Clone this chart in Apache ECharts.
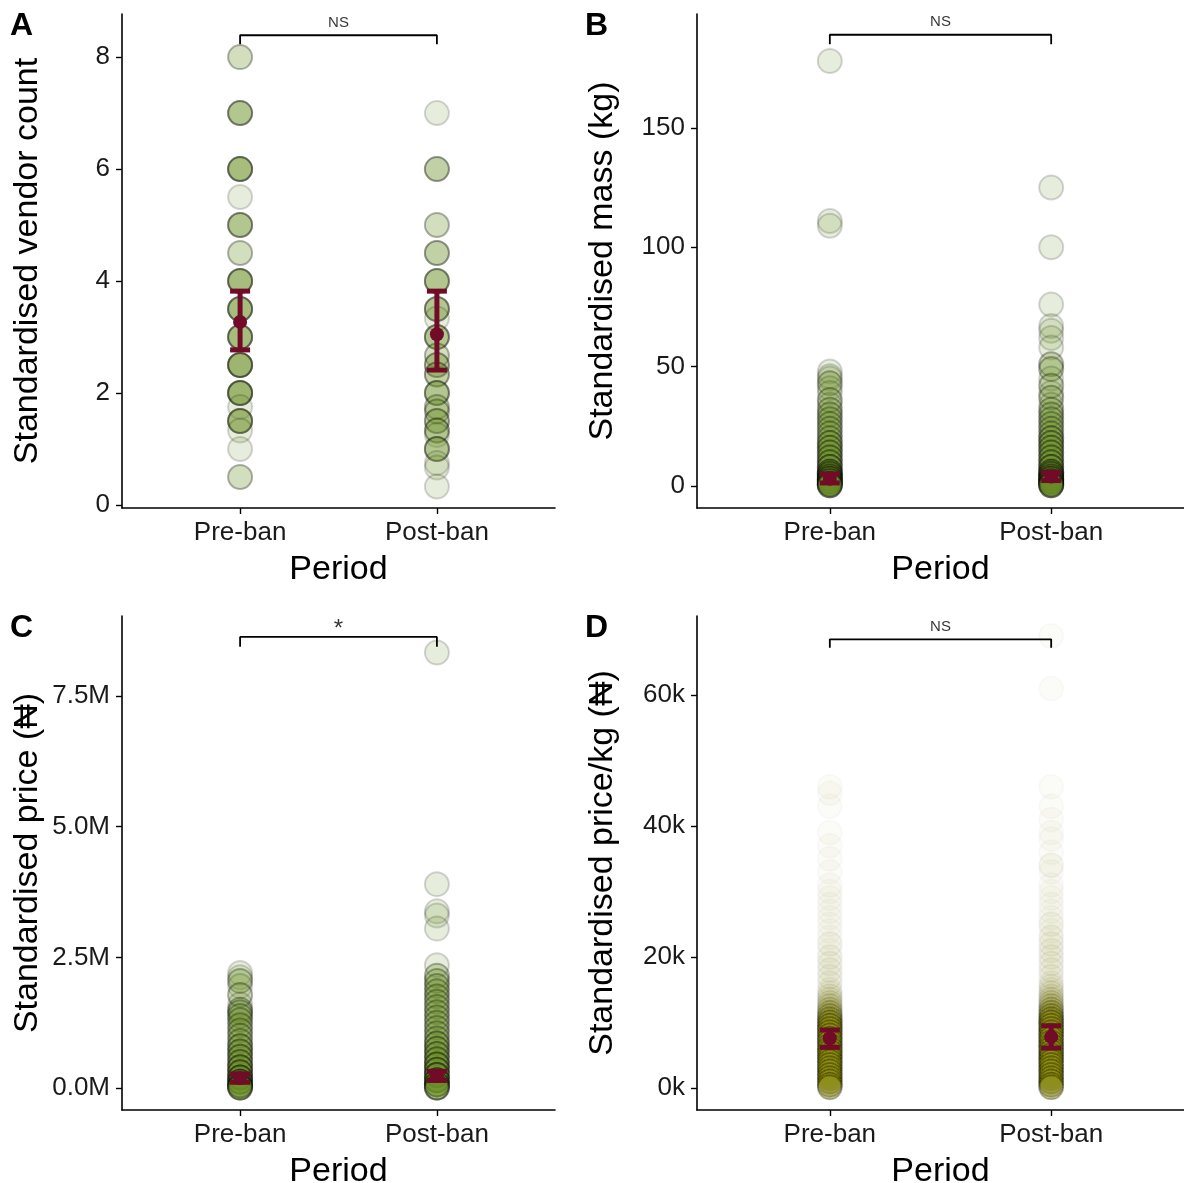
<!DOCTYPE html>
<html>
<head>
<meta charset="utf-8">
<title>Pre-ban vs post-ban</title>
<script src="https://cdn.jsdelivr.net/npm/echarts@6/dist/echarts.min.js"></script>
<style>
  html, body { margin: 0; padding: 0; background: #fff; }
  #chart { width: 1184px; height: 1183px; }
</style>
</head>
<body>
<div id="chart"></div>
<script>
const periods = ['Pre-ban', 'Post-ban'];

// A: standardised vendor count (value, number of records at that value)
const countPreVals = [8, 7, 6, 5.5, 5, 4.5, 4, 3.5, 3, 2.5, 2, 1.75, 1.5, 1.33, 1, 0.5];
const countPreN = [2, 4, 5, 1, 4, 2, 5, 5, 5, 6, 6, 1, 5, 1, 1, 2];
const countPostVals = [7, 6, 5, 4.5, 4, 3.5, 3.33, 3, 2.67, 2.5, 2.33, 2, 1.75, 1.67, 1.5, 1.33, 1.25, 1, 0.75, 0.67, 0.33];
const countPostN = [1, 3, 2, 3, 4, 4, 1, 4, 2, 3, 3, 4, 2, 2, 3, 3, 1, 4, 1, 1, 1];

// B: standardised mass (kg)
const massPreVals = [178, 111, 109, 48, 46, 45, 43, 41, 39, 36, 34, 32, 30, 28, 26, 24, 22, 20, 18, 16, 14, 12, 10, 8, 6, 5, 4, 3, 2, 1, 0.3];
const massPreN = [1, 1, 1, 1, 1, 1, 2, 1, 1, 2, 1, 2, 2, 2, 2, 2, 2, 2, 3, 3, 3, 3, 3, 4, 4, 4, 4, 5, 5, 5, 5];
const massPostVals = [125, 100, 76, 67, 65, 62, 58, 51, 49, 45, 42, 39, 37, 34, 32, 30, 28, 26, 24, 22, 20, 18, 16, 14, 12, 10, 8, 6, 5, 4, 3, 2, 1, 0.3];
const massPostN = [1, 1, 1, 1, 1, 1, 1, 2, 2, 1, 2, 1, 2, 1, 2, 2, 2, 2, 2, 2, 3, 3, 3, 3, 3, 3, 4, 4, 4, 4, 5, 5, 5, 5];

// C: standardised price (million naira)
const pricePreVals = [2.2, 2.12, 2.05, 1.95, 1.78, 1.6, 1.5, 1.45, 1.38, 1.3, 1.2, 1.1, 1.0, 0.9, 0.8, 0.7, 0.6, 0.5, 0.4, 0.3, 0.2, 0.12, 0.05, 0.01];
const pricePreN = [1, 1, 2, 1, 2, 1, 2, 2, 2, 2, 2, 2, 2, 2, 3, 3, 3, 3, 4, 4, 5, 5, 5, 5];
const pricePostVals = [8.33, 3.9, 3.38, 3.3, 3.05, 2.35, 2.15, 2.05, 1.95, 1.85, 1.75, 1.65, 1.55, 1.45, 1.35, 1.25, 1.15, 1.05, 0.95, 0.85, 0.75, 0.65, 0.55, 0.45, 0.35, 0.25, 0.15, 0.07, 0.01];
const pricePostN = [1, 1, 1, 1, 1, 1, 2, 2, 2, 2, 2, 2, 2, 2, 2, 2, 2, 2, 2, 3, 3, 3, 3, 4, 4, 5, 5, 5, 5];

// D: standardised price per kg (thousand naira)
const perKgPreVals = [46, 45, 43, 39, 37, 35, 33, 31, 30, 29, 28, 27, 26, 25, 24, 23, 22, 21, 20, 19, 18, 17, 16, 15, 14.5, 14, 13.5, 13, 12.5, 12, 11.5, 11, 10.5, 10, 9.5, 9, 8.5, 8, 7.5, 7, 6.5, 6, 5.5, 5, 4.5, 4, 3.5, 3, 2.5, 2, 1.5, 1, 0.5, 0.1];
const perKgPreN = [1, 1, 1, 1, 1, 1, 1, 1, 1, 1, 1, 1, 1, 1, 1, 1, 2, 1, 2, 2, 2, 2, 2, 2, 2, 3, 3, 4, 5, 6, 8, 10, 12, 14, 15, 15, 15, 15, 15, 15, 15, 15, 15, 15, 15, 15, 15, 15, 15, 15, 15, 15, 15, 15];
const perKgPostVals = [69, 61, 46, 43, 41, 39, 38, 36, 34, 33, 31, 30, 29, 28, 27, 26, 25, 24, 23, 22, 21, 20, 19, 18, 17, 16, 15.5, 15, 14.5, 14, 13.5, 13, 12.5, 12, 11.5, 11, 10.5, 10, 9.5, 9, 8.5, 8, 7.5, 7, 6.5, 6, 5.5, 5, 4.5, 4, 3.5, 3, 2.5, 2, 1.5, 1, 0.5, 0.1];
const perKgPostN = [1, 1, 1, 1, 1, 1, 1, 1, 2, 1, 1, 1, 1, 1, 1, 1, 2, 1, 2, 2, 2, 2, 2, 2, 2, 2, 2, 2, 3, 3, 4, 5, 6, 8, 10, 12, 14, 15, 15, 15, 15, 15, 15, 15, 15, 15, 15, 15, 15, 15, 15, 15, 15, 15, 15, 15, 15, 15];

// means with confidence interval: [mean, low, high] per period
const countMean = [[3.27, 2.77, 3.82], [3.05, 2.41, 3.82]];
const massMean = [[3.1, 1.3, 5.0], [4.0, 2.3, 5.7]];
const priceMean = [[0.19, 0.11, 0.27], [0.23, 0.145, 0.32]];
const perKgMean = [[7.6, 6.2, 8.85], [7.8, 6.1, 9.5]];

// tick labels
const countTicks = [0, 2, 4, 6, 8];
const massTicks = [0, 50, 100, 150];
const priceTicks = [0, 2.5, 5, 7.5];
const perKgTicks = [0, 20, 40, 60];

// significance brackets: [tip, top]
const sigLabels = ['NS', 'NS', '*', 'NS'];
const bracketY = [[8.23, 8.39], [185, 189], [8.44, 8.63], [67.2, 68.5]];

const RED = '#710b28';
const FONT = "'Liberation Sans', 'DejaVu Sans', Arial, sans-serif";

const panels = [
  { letter: 'A', title: 'Standardised vendor count', grid: [122, 14], w: 433,
    pre: [countPreVals, countPreN], post: [countPostVals, countPostN], mean: countMean,
    ticks: countTicks, range: [-0.054, 8.77], fmt: v => String(v),
    alpha: 0.16, edge: 0.16, rgb: '107,142,35' },
  { letter: 'B', title: 'Standardised mass (kg)', grid: [697, 14], w: 487,
    pre: [massPreVals, massPreN], post: [massPostVals, massPostN], mean: massMean,
    ticks: massTicks, range: [-9.2, 197.7], fmt: v => String(v),
    alpha: 0.16, edge: 0.16, rgb: '107,142,35' },
  { letter: 'C', title: 'Standardised price (\u20A6)', grid: [122, 616], w: 433,
    pre: [pricePreVals, pricePreN], post: [pricePostVals, pricePostN], mean: priceMean,
    ticks: priceTicks, range: [-0.42, 9.03], fmt: v => v.toFixed(1) + 'M',
    alpha: 0.16, edge: 0.16, rgb: '107,142,35' },
  { letter: 'D', title: 'Standardised price/kg (\u20A6)', grid: [697, 616], w: 487,
    pre: [perKgPreVals, perKgPreN], post: [perKgPostVals, perKgPostN], mean: perKgMean,
    ticks: perKgTicks, range: [-3.36, 72.06], fmt: v => v + 'k',
    alpha: 0.035, edge: 0.02, rgb: '140,140,20' }
];

function expand(vals, ns, x) {
  const out = [];
  vals.forEach((v, i) => {
    for (let k = 0; k < ns[i]; k++) out.push([x, v]);
  });
  return out;
}

const grids = [], xAxes = [], yAxes = [], series = [], graphics = [];

panels.forEach((p, i) => {
  grids.push({ left: p.grid[0], top: p.grid[1], width: p.w, height: 494, outerBoundsMode: 'none' });

  xAxes.push({
    type: 'value', gridIndex: i, min: 0.4, max: 2.6,
    name: 'Period', nameLocation: 'middle', nameGap: 45,
    nameTextStyle: { fontSize: 34, color: '#000', fontFamily: FONT },
    axisLine: { show: true, onZero: false, lineStyle: { color: '#000', width: 1.6 } },
    axisTick: { show: true, length: 6, customValues: [1, 2], lineStyle: { color: '#000', width: 1.4 } },
    axisLabel: { customValues: [1, 2], formatter: v => periods[Math.round(v) - 1],
      fontSize: 26, color: '#1a1a1a', margin: 12, fontFamily: FONT },
    splitLine: { show: false }
  });

  yAxes.push({
    type: 'value', gridIndex: i, min: p.range[0], max: p.range[1],
    name: p.title, nameLocation: 'middle', nameGap: 77,
    nameTextStyle: { fontSize: 34, color: '#000', fontFamily: FONT },
    axisLine: { show: true, onZero: false, lineStyle: { color: '#000', width: 1.6 } },
    axisTick: { show: true, length: 6, customValues: p.ticks, lineStyle: { color: '#000', width: 1.4 } },
    axisLabel: { customValues: p.ticks, formatter: p.fmt, padding: [4, 0, 0, 0],
      fontSize: 26, color: '#1a1a1a', margin: 12, fontFamily: FONT },
    splitLine: { show: false }
  });

  const pts = expand(p.pre[0], p.pre[1], 1).concat(expand(p.post[0], p.post[1], 2));
  series.push({
    type: 'scatter', xAxisIndex: i, yAxisIndex: i, data: pts,
    symbol: 'circle', symbolSize: 24, clip: false, progressive: 0,
    itemStyle: {
      color: 'rgba(' + p.rgb + ',' + p.alpha + ')',
      borderColor: 'rgba(0,0,0,' + p.edge + ')',
      borderWidth: 2, opacity: 1
    },
    emphasis: { disabled: true },
    z: 2
  });

  series.push({
    type: 'custom', xAxisIndex: i, yAxisIndex: i, clip: false, z: 5,
    data: p.mean.map((m, k) => [k + 1, m[0], m[1], m[2]]),
    encode: { x: 0, y: [1, 2, 3] },
    renderItem: (params, api) => {
      const x = api.value(0);
      const pm = api.coord([x, api.value(1)]);
      const plo = api.coord([x, api.value(2)]);
      const phi = api.coord([x, api.value(3)]);
      const hw = 10;
      const st = { stroke: RED, lineWidth: 5 };
      return {
        type: 'group',
        children: [
          { type: 'line', shape: { x1: phi[0], y1: phi[1], x2: plo[0], y2: plo[1] }, style: st },
          { type: 'line', shape: { x1: phi[0] - hw, y1: phi[1], x2: phi[0] + hw, y2: phi[1] }, style: st },
          { type: 'line', shape: { x1: plo[0] - hw, y1: plo[1], x2: plo[0] + hw, y2: plo[1] }, style: st },
          { type: 'circle', shape: { cx: pm[0], cy: pm[1], r: 7 }, style: { fill: RED } }
        ]
      };
    }
  });

  const b = bracketY[i];
  series.push({
    type: 'line', xAxisIndex: i, yAxisIndex: i, clip: false, z: 6,
    data: [[1, b[0]], [1, b[1]], [2, b[1]], [2, b[0]]],
    symbol: 'none', silent: true,
    lineStyle: { color: '#000', width: 1.8 }
  });
  const isStar = sigLabels[i] === '*';
  series.push({
    type: 'scatter', xAxisIndex: i, yAxisIndex: i, clip: false, z: 6,
    data: [[1.5, b[1]]], symbolSize: 0, silent: true,
    label: {
      show: true, position: 'top', distance: isStar ? -4 : 5,
      formatter: sigLabels[i], fontSize: isStar ? 24 : 15,
      color: '#000', fontFamily: FONT
    }
  });

  graphics.push({
    type: 'text', left: p.grid[0] - 112, top: p.grid[1] - 4,
    style: { text: p.letter, fontSize: 32, fontWeight: 'bold', fill: '#000', font: 'bold 32px ' + FONT }
  });
});

const chart = echarts.init(document.getElementById('chart'), null, { renderer: 'canvas' });
chart.setOption({
  animation: false,
  backgroundColor: '#fff',
  textStyle: { fontFamily: FONT },
  grid: grids,
  xAxis: xAxes,
  yAxis: yAxes,
  series: series,
  graphic: graphics
});
</script>
</body>
</html>
